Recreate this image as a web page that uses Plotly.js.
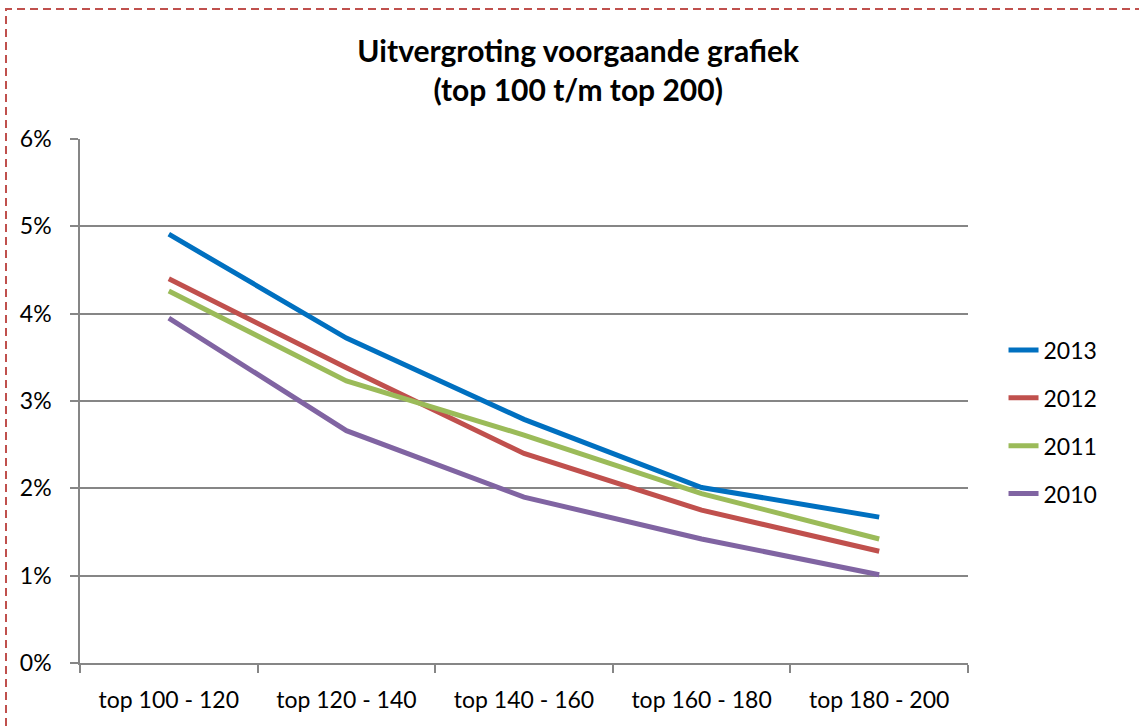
<!DOCTYPE html>
<html>
<head>
<meta charset="utf-8">
<script src="https://cdn.plot.ly/plotly-3.0.1.min.js"></script>
<style>
html,body{margin:0;padding:0;background:#fff;}
#chart{width:1139px;height:726px;}
</style>
</head>
<body>
<div id="chart"></div>
<script>
const categories = ["top 100 - 120", "top 120 - 140", "top 140 - 160", "top 160 - 180", "top 180 - 200"];
const seriesNames = ["2013", "2012", "2011", "2010"];
const v2013 = [4.91, 3.72, 2.79, 2.01, 1.67];
const v2012 = [4.40, 3.38, 2.40, 1.75, 1.28];
const v2011 = [4.26, 3.23, 2.61, 1.94, 1.42];
const v2010 = [3.95, 2.66, 1.90, 1.42, 1.01];
const yTicks = [0, 1, 2, 3, 4, 5, 6];
const yTickLabels = ["0%", "1%", "2%", "3%", "4%", "5%", "6%"];
const colors = ["#0070C0", "#C0504D", "#9BBB59", "#8064A2"];

const seriesValues = [v2013, v2012, v2011, v2010];
const traces = seriesValues.map((vals, i) => ({
  type: "scatter",
  mode: "lines",
  x: categories,
  y: vals,
  name: seriesNames[i],
  legendgroup: seriesNames[i],
  line: {color: colors[i], width: 5},
  hoverinfo: "x+y+name"
}));

const font = "Lato, 'Liberation Sans', sans-serif";
const layout = {
  width: 1139,
  height: 726,
  margin: {l: 80, r: 171, t: 139, b: 63},
  paper_bgcolor: "#ffffff",
  plot_bgcolor: "#ffffff",
  font: {family: font, size: 23, color: "#000000"},
  title: {
    text: "<b>Uitvergroting voorgaande grafiek<br>(top 100 t/m top 200)</b>",
    font: {family: font, size: 30, color: "#000000"},
    x: 0.561, xref: "paper", xanchor: "center",
    y: 0.915, yref: "container", yanchor: "top"
  },
  xaxis: {
    type: "category",
    range: [-0.5, 4.5],
    showgrid: false,
    showline: true,
    linecolor: "#868686",
    linewidth: 1.5,
    ticks: "outside",
    tickson: "boundaries",
    ticklen: 8,
    tickcolor: "#868686",
    tickwidth: 1.5,
    ticklabelstandoff: 16,
    tickfont: {family: font, size: 23, color: "#000"},
    zeroline: false,
    fixedrange: true
  },
  yaxis: {
    range: [0, 6],
    tickvals: yTicks,
    ticktext: yTickLabels,
    showgrid: true,
    gridcolor: "#868686",
    gridwidth: 1.5,
    showline: true,
    linecolor: "#868686",
    linewidth: 1.5,
    ticks: "outside",
    ticklen: 8,
    tickcolor: "#868686",
    tickwidth: 1.5,
    ticklabelstandoff: 14,
    tickfont: {family: font, size: 23, color: "#000"},
    zeroline: false,
    fixedrange: true
  },
  legend: {
    x: 1.04, xanchor: "left",
    y: 0.46, yanchor: "middle",
    traceorder: "grouped",
    tracegroupgap: 15,
    font: {family: font, size: 23, color: "#000"},
    itemwidth: 30
  },
  shapes: [{
    type: "rect",
    xref: "paper", yref: "paper",
    x0: (6 - 80) / 888, x1: (1145 - 80) / 888,
    y0: (663 - 740) / 524, y1: (663 - 9) / 524,
    line: {color: "#C0504D", width: 2, dash: "8px,5px"},
    fillcolor: "rgba(0,0,0,0)",
    layer: "below"
  }]
};

Plotly.newPlot("chart", traces, layout, {displayModeBar: false});
</script>
</body>
</html>
